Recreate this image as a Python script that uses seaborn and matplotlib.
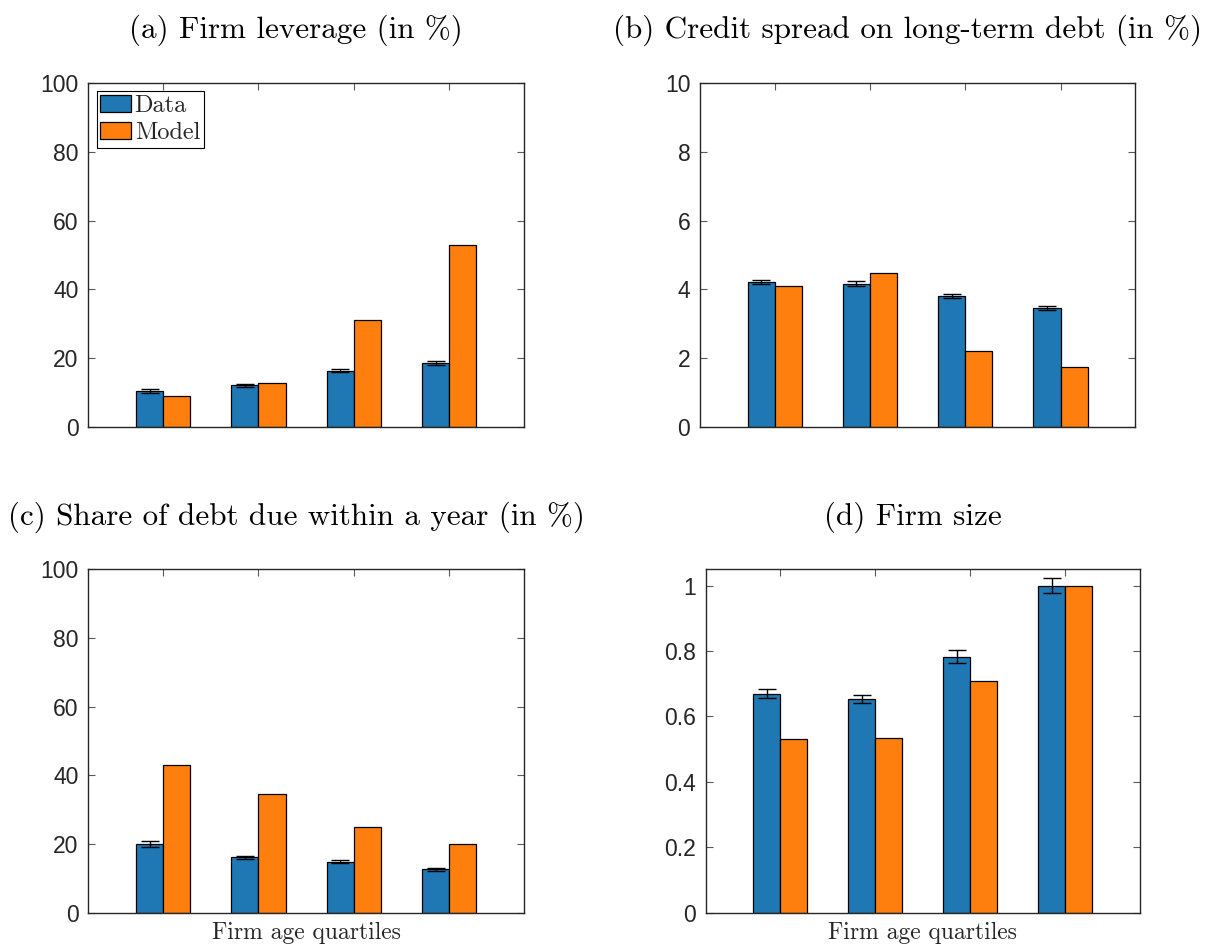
import numpy as np
import pandas as pd
import matplotlib
matplotlib.use("Agg")
import matplotlib.pyplot as plt
import seaborn as sns
from matplotlib.ticker import FuncFormatter, MultipleLocator

# ---------------- data ----------------
quartiles = ["Q1", "Q2", "Q3", "Q4"]
series = ["Data", "Model"]

leverage_data = [10.4, 12.0, 16.3, 18.6]
leverage_model = [8.8, 12.8, 31.0, 53.0]
leverage_err = [0.5, 0.5, 0.5, 0.5]

spread_data = [4.22, 4.17, 3.81, 3.46]
spread_model = [4.11, 4.48, 2.19, 1.75]
spread_err = [0.05, 0.06, 0.05, 0.05]

short_data = [20.0, 16.1, 14.9, 12.6]
short_model = [43.1, 34.7, 25.1, 19.9]
short_err = [1.0, 0.5, 0.55, 0.45]

size_data = [0.670, 0.653, 0.783, 1.0]
size_model = [0.530, 0.534, 0.708, 1.0]
size_err = [0.014, 0.013, 0.019, 0.022]

titles = [
    "(a) Firm leverage (in %)",
    "(b) Credit spread on long-term debt (in %)",
    "(c) Share of debt due within a year (in %)",
    "(d) Firm size",
]
y_max = [100, 10, 100, 1.05]
y_step = [20, 2, 20, 0.2]
xlabel_text = "Firm age quartiles"

panels = [
    (leverage_data, leverage_model, leverage_err),
    (spread_data, spread_model, spread_err),
    (short_data, short_model, short_err),
    (size_data, size_model, size_err),
]

# ---------------- style ----------------
sns.set_style("ticks")
plt.rcParams["font.family"] = ["Liberation Sans", "DejaVu Sans"]
plt.rcParams["axes.unicode_minus"] = False
serif = ["cmr10", "DejaVu Serif"]
axis_gray = "#262626"
palette = ["#1f77b4", "#ff7f0e"]

fig = plt.figure(figsize=(12.08, 9.46), dpi=100)
W, H = 1208.0, 946.0
rects = [
    (88.3, 83.3, 524.0, 426.7),
    (700.0, 83.3, 1135.3, 426.7),
    (88.3, 569.3, 524.0, 912.7),
    (705.7, 569.3, 1140.0, 912.7),
]

for i, ((d, m, e), (x0, y0, x1, y1)) in enumerate(zip(panels, rects)):
    ax = fig.add_axes([x0 / W, 1 - y1 / H, (x1 - x0) / W, (y1 - y0) / H])
    df = pd.DataFrame({
        "quartile": quartiles * 2,
        "series": [series[0]] * 4 + [series[1]] * 4,
        "value": list(d) + list(m),
    })
    sns.barplot(data=df, x="quartile", y="value", hue="series",
                palette=palette, width=0.57, edgecolor="black",
                linewidth=0.9, errorbar=None, legend=False, ax=ax,
                saturation=1)
    # error bars on Data bars
    xs = [p.get_x() + p.get_width() / 2 for p in ax.containers[0]]
    hs = [p.get_height() for p in ax.containers[0]]
    ax.errorbar(xs, hs, yerr=e, fmt="none", ecolor="black",
                elinewidth=1.0, capsize=6.5, capthick=1.0, zorder=5)

    ax.set_xlim(-0.785, 3.785)
    ax.set_ylim(0, y_max[i])
    ax.yaxis.set_major_locator(MultipleLocator(y_step[i]))
    ax.yaxis.set_major_formatter(FuncFormatter(lambda v, p: f"{v:g}"))
    ax.set_xticks(range(4))
    ax.set_xticklabels([])
    ax.set_ylabel("")
    ax.set_xlabel("")
    ax.tick_params(axis="both", direction="in", length=5, width=0.8,
                   color="#5a5a5a", top=True, right=True,
                   labelsize=16.5, labelcolor=axis_gray, pad=7)
    for s in ax.spines.values():
        s.set_visible(True)
        s.set_color(axis_gray)
        s.set_linewidth(1.0)

    title_y = 1 + ((y0 - (30.5 if i < 2 else 517.5)) / (y1 - y0))
    ax.text(0.477, title_y, titles[i], transform=ax.transAxes,
            ha="center", va="center", fontsize=22.4, family=serif,
            color="black")

    if i >= 2:
        ax.set_xlabel(xlabel_text, fontsize=17, family=serif,
                      color=axis_gray, va="center")
        ax.xaxis.set_label_coords(0.5, -20 / (y1 - y0))

    if i == 0:
        leg = ax.legend(ax.containers[:2], series, loc="upper left",
                        bbox_to_anchor=(0.019, 0.978), borderaxespad=0,
                        prop={"family": serif, "size": 17.5},
                        handlelength=1.27, handleheight=0.74,
                        handletextpad=0.15, labelspacing=0.2,
                        borderpad=0.15, fancybox=False, framealpha=1,
                        edgecolor="black")
        leg.get_frame().set_linewidth(0.8)

fig.savefig("out.png", dpi=100)
